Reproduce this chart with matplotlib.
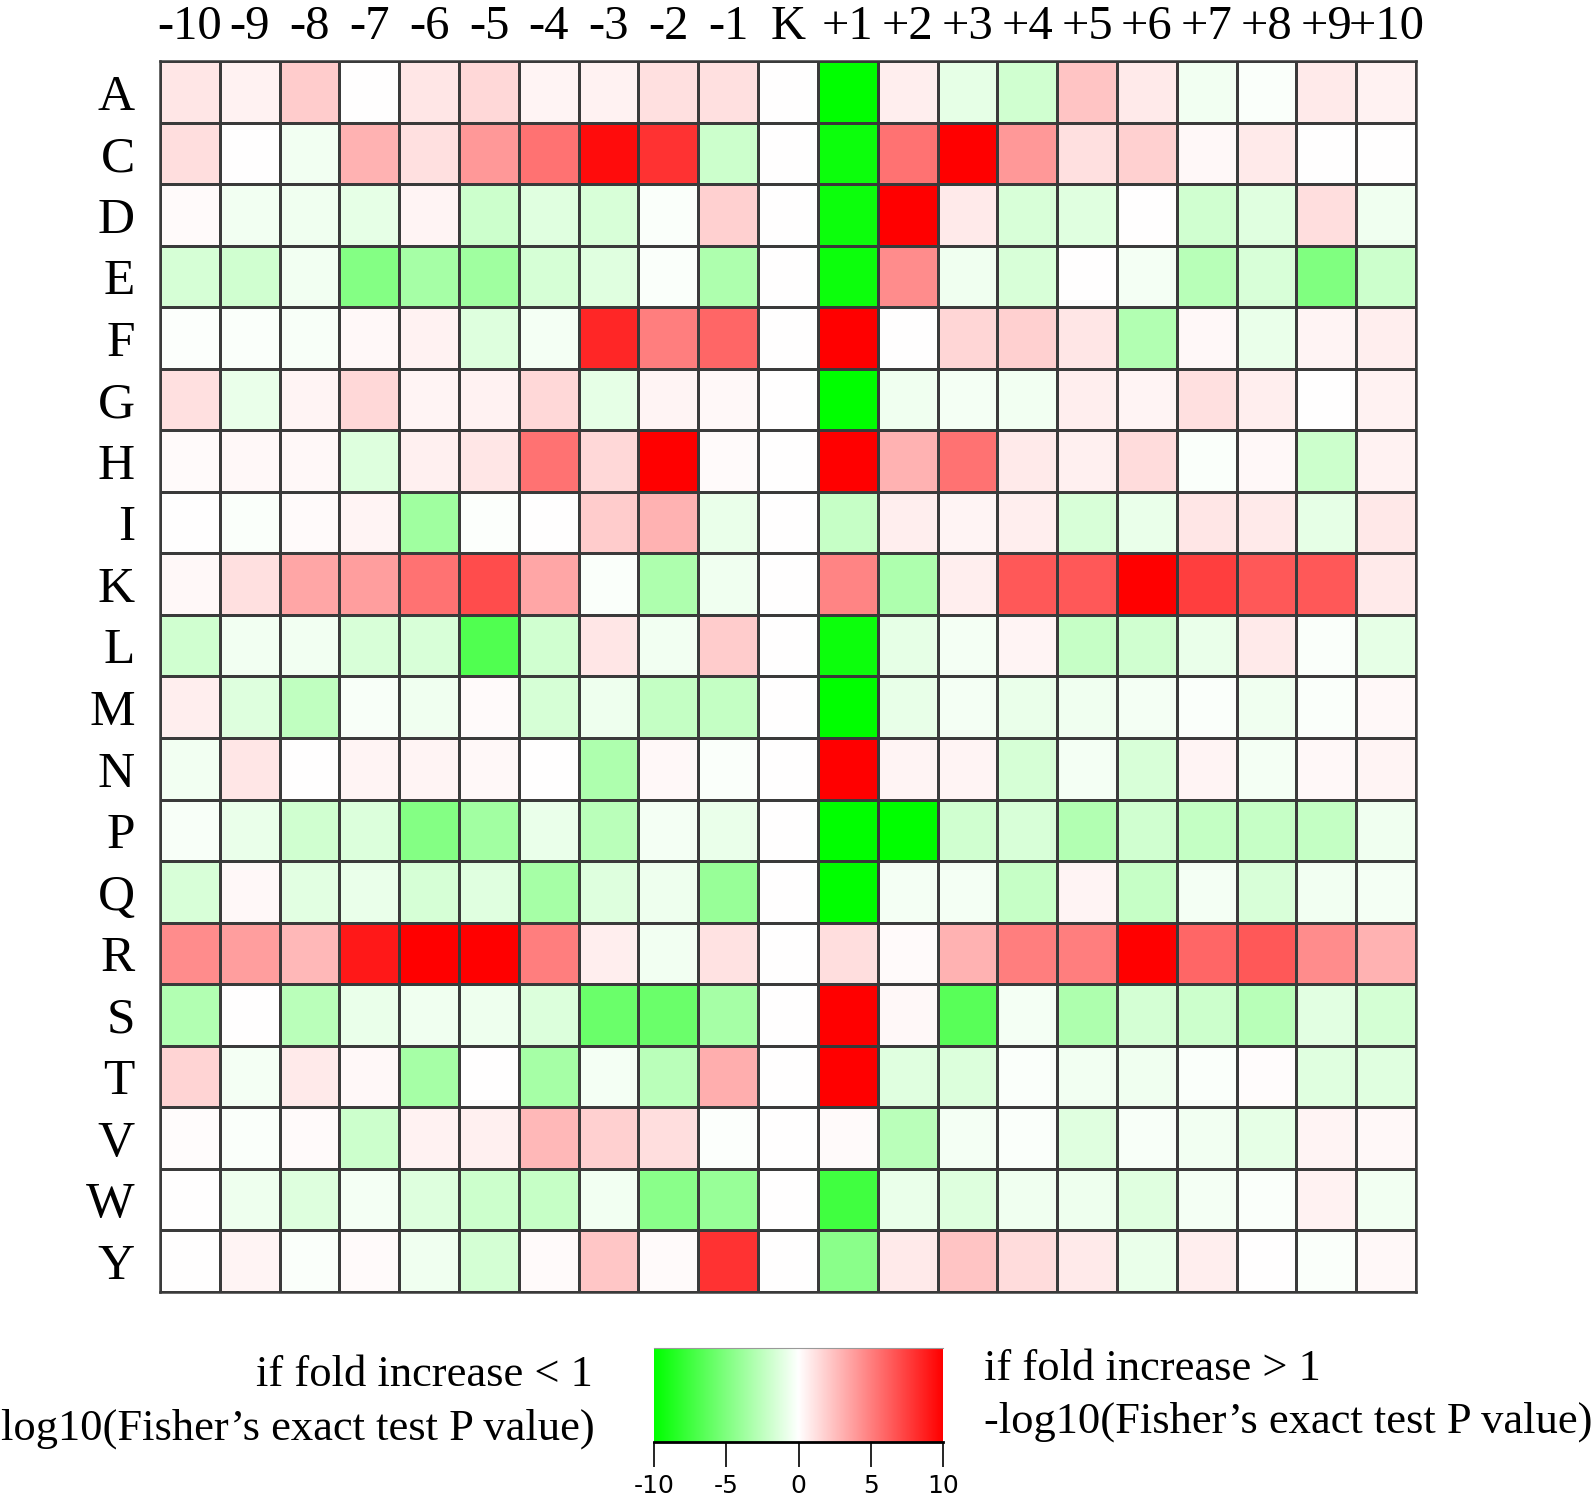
import numpy as np
import matplotlib
matplotlib.use("Agg")
import matplotlib.pyplot as plt
from matplotlib.colors import LinearSegmentedColormap

# residues (rows) and positions (columns)
residues = ['A', 'C', 'D', 'E', 'F', 'G', 'H', 'I', 'K', 'L',
            'M', 'N', 'P', 'Q', 'R', 'S', 'T', 'V', 'W', 'Y']
positions = ['-10', '-9', '-8', '-7', '-6', '-5', '-4', '-3', '-2', '-1', 'K',
             '+1', '+2', '+3', '+4', '+5', '+6', '+7', '+8', '+9', '+10']

# signed -log10(P): >0 fold increase > 1 (red), <0 fold increase < 1 (green)
row_A = [1.0, 0.5, 2.0, 0.0, 1.0, 1.5, 0.4, 0.5, 1.2, 1.2, 0, -10, 0.7, -1.0, -1.8, 2.3, 0.8, -0.5, -0.2, 0.8, 0.5]
row_C = [1.3, 0.0, -0.5, 3.0, 1.2, 4.0, 5.5, 9.5, 8.0, -2.0, 0, -9.5, 5.5, 10, 4.0, 1.2, 1.8, 0.3, 0.8, 0.0, 0.0]
row_D = [0.2, -0.5, -0.6, -1.0, 0.4, -2.0, -1.2, -1.5, -0.2, 1.8, 0, -9.5, 10, 0.8, -1.5, -1.2, 0.0, -1.8, -1.2, 1.3, -0.6]
row_E = [-1.6, -1.8, -0.5, -4.8, -3.5, -3.7, -1.6, -1.2, -0.2, -3.2, 0, -9.5, 4.5, -0.6, -1.5, 0.0, -0.4, -2.8, -1.5, -5.0, -2.0]
row_F = [-0.1, -0.2, -0.3, 0.3, 0.5, -1.3, -0.4, 8.5, 5.0, 6.0, 0, 10, 0.0, 1.6, 1.8, 1.0, -3.0, 0.3, -0.8, 0.4, 0.7]
row_G = [1.2, -0.8, 0.4, 1.5, 0.4, 0.5, 1.5, -1.0, 0.4, 0.3, 0, -10, -0.6, -0.4, -0.5, 0.7, 0.4, 1.2, 0.7, 0.0, 0.5]
row_H = [0.2, 0.3, 0.3, -1.3, 0.6, 1.0, 5.5, 1.5, 10, 0.2, 0, 10, 3.0, 5.5, 0.8, 0.6, 1.4, -0.2, 0.3, -2.0, 0.5]
row_I = [0.0, -0.2, 0.2, 0.4, -3.7, -0.1, 0.0, 2.0, 3.0, -0.8, 0, -2.2, 0.7, 0.4, 0.7, -1.5, -0.8, 1.0, 0.8, -1.0, 0.9]
row_K = [0.3, 1.2, 3.5, 3.8, 5.5, 7.0, 3.5, -0.2, -3.2, -0.6, 0, 4.8, -3.2, 0.7, 6.5, 6.5, 10, 7.5, 6.5, 6.5, 0.8]
row_L = [-1.8, -0.5, -0.5, -1.5, -1.5, -6.8, -1.8, 1.0, -0.5, 2.0, 0, -9.5, -1.0, -0.4, 0.4, -2.2, -1.8, -0.8, 0.8, -0.2, -1.0]
row_M = [0.7, -1.3, -2.5, -0.3, -0.6, 0.2, -1.6, -0.7, -2.3, -2.3, 0, -10, -0.9, -0.4, -0.8, -0.6, -0.4, -0.2, -0.6, -0.2, 0.3]
row_N = [-0.5, 1.0, 0.0, 0.4, 0.4, 0.3, 0.0, -3.2, 0.3, -0.2, 0, 10, 0.4, 0.4, -1.6, -0.4, -1.5, 0.4, -0.4, 0.3, 0.4]
row_P = [-0.3, -0.8, -1.8, -1.4, -4.8, -3.6, -0.8, -2.7, -0.4, -0.8, 0, -10, -10, -1.8, -1.5, -3.0, -1.8, -2.3, -2.2, -2.3, -0.6]
row_Q = [-1.5, 0.3, -1.1, -0.8, -1.6, -1.2, -3.5, -1.3, -0.7, -4.0, 0, -10, -0.4, -0.4, -2.2, 0.4, -2.2, -0.4, -1.5, -0.5, -0.4]
row_R = [4.5, 3.8, 2.8, 9.0, 10, 10, 5.0, 0.7, -0.5, 1.1, 0, 1.3, 0.2, 3.0, 5.0, 5.0, 10, 6.0, 6.5, 4.5, 3.0]
row_S = [-3.0, 0.0, -2.7, -0.8, -0.6, -0.7, -1.4, -5.8, -5.8, -3.5, 0, 10, 0.3, -6.5, -0.4, -3.2, -1.7, -2.0, -2.8, -1.1, -1.7]
row_T = [1.7, -0.4, 0.8, 0.3, -3.5, 0.0, -3.5, -0.4, -2.7, 3.2, 0, 10, -1.2, -1.4, -0.2, -0.5, -0.6, -0.2, 0.1, -1.2, -1.2]
row_V = [0.1, -0.2, 0.2, -2.0, 0.5, 0.6, 2.8, 1.8, 1.3, -0.1, 0, 0.2, -2.7, -0.4, -0.2, -1.2, -0.3, -0.5, -1.0, 0.4, 0.3]
row_W = [0.0, -0.7, -1.3, -0.4, -1.3, -2.0, -2.2, -0.5, -4.6, -4.0, 0, -7.5, -0.8, -1.3, -0.6, -0.7, -1.2, -0.4, -0.2, 0.5, -0.5]
row_Y = [0.0, 0.4, -0.2, 0.2, -0.6, -1.7, 0.2, 2.2, 0.2, 8.0, 0, -4.6, 0.8, 2.3, 1.4, 0.8, -0.8, 0.7, 0.0, -0.2, 0.3]

values = np.array([row_A, row_C, row_D, row_E, row_F, row_G, row_H, row_I, row_K, row_L,
                   row_M, row_N, row_P, row_Q, row_R, row_S, row_T, row_V, row_W, row_Y])

cbar_ticks = [-10, -5, 0, 5, 10]

serif = ['Liberation Serif', 'DejaVu Serif']
cmap = LinearSegmentedColormap.from_list('gwr', ['#00FF00', '#FFFFFF', '#FF0000'])

fig = plt.figure(figsize=(15.95, 15.1), dpi=100)

# main heatmap
ax = fig.add_axes([0.1003, 0.1444, 0.7875, 0.8152])
ax.pcolormesh(values, cmap=cmap, vmin=-10, vmax=10,
              edgecolors='#3a3a3a', linewidth=1.8)
ax.set_xlim(0, len(positions))
ax.set_ylim(len(residues), 0)
ax.xaxis.tick_top()
ax.set_xticks(np.arange(len(positions)) + 0.5)
ax.set_xticklabels(positions, fontsize=35, family=serif)
ax.set_yticks(np.arange(len(residues)) + 0.5)
ax.set_yticklabels(residues, fontsize=37, family=serif)
ax.tick_params(axis='x', length=0, pad=9)
ax.tick_params(axis='y', length=0, pad=18)
for s in ax.spines.values():
    s.set_color('#3a3a3a')
    s.set_linewidth(1.8)

# colour key
cax = fig.add_axes([654 / 1595, 1 - 1442 / 1510, 289 / 1595, 94 / 1510])
grad = np.linspace(-10, 10, 256).reshape(1, -1)
cax.imshow(grad, aspect='auto', cmap=cmap, vmin=-10, vmax=10,
           extent=[-10, 10, 0, 1])
cax.set_xlim(-10, 10)
cax.set_yticks([])
cax.set_xticks(cbar_ticks)
cax.set_xticklabels([str(t) for t in cbar_ticks], fontsize=18)
cax.tick_params(axis='x', length=18, width=1.2, pad=5)
for side in ['left', 'right']:
    cax.spines[side].set_visible(False)
cax.spines['top'].set_color('#999999')
cax.spines['bottom'].set_linewidth(2)

fig.text(593 / 1595, 1 - 1375 / 1510, 'if fold increase < 1', ha='right', va='center',
         fontsize=32, family=serif)
fig.text(595 / 1595, 1 - 1429 / 1510, 'log10(Fisher\u2019s exact test P value)', ha='right',
         va='center', fontsize=32, family=serif)
fig.text(984 / 1595, 1 - 1369 / 1510, 'if fold increase > 1', ha='left', va='center',
         fontsize=32, family=serif)
fig.text(984 / 1595, 1 - 1422 / 1510, '-log10(Fisher\u2019s exact test P value)', ha='left',
         va='center', fontsize=32, family=serif)

plt.savefig('out.png', dpi=100)
